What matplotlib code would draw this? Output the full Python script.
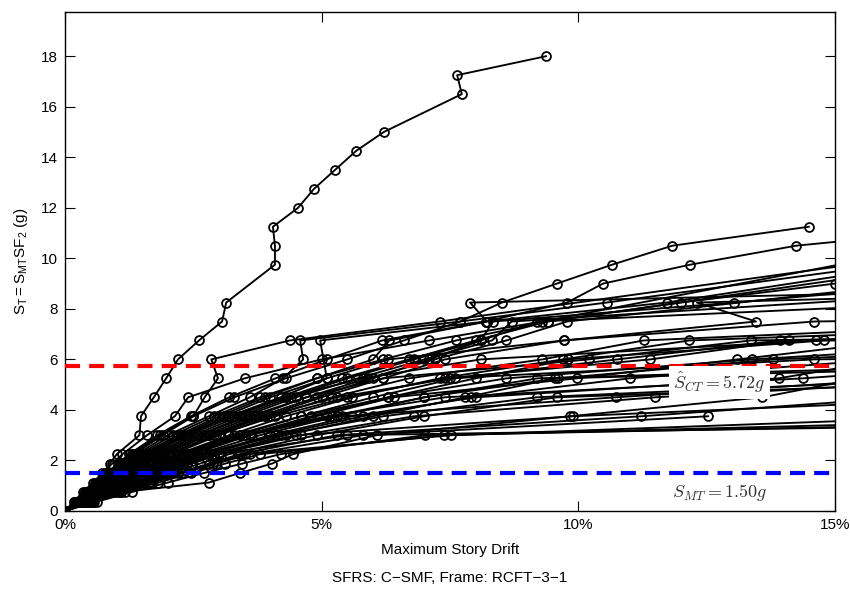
import matplotlib
matplotlib.use("Agg")
import matplotlib.pyplot as plt
import numpy as np

plt.rcParams['font.family'] = ['Liberation Sans', 'DejaVu Sans']
plt.rcParams['mathtext.fontset'] = 'cm'

# Intensity levels S_T (g) at which the IDA runs were performed
levels = [0, 0.375, 0.75, 1.125, 1.5, 1.875, 2.25, 3.0, 3.75, 4.5, 5.25, 6.0, 6.75,
          7.5, 8.25, 9.0, 9.75, 10.5, 11.25, 12.0, 12.75, 13.5, 14.25, 15.0, 15.75,
          16.5, 17.25, 18.0]

# Maximum story drift (%) of each record at each level (None = level skipped)
c01 = [0, .18, .38, .58, .78, .87, 1.01, 1.45, 1.48, 1.73, 1.97, 2.2, 2.61, 3.06, 3.14, None,
       4.09, 4.09, 4.05, 4.54, 4.85, 5.26, 5.67, 6.21, None, 7.73, 7.64, 9.37]
c02 = [0, .2, .4, .63, .85, 1.07, 1.3, 1.85, 2.5, 3.3, 4.3, 5.5, 6.6, 7.7, 8.51, 9.58, 10.66, 11.83, 14.49]
c03 = [0, .19, .39, .6, .81, 1.03, 1.25, 1.8, 2.45, 3.2, 4.1, 5.1, 6.18, 8.2, 9.78, 10.48, 12.18, 14.24]
c04 = [0, .22, .45, .7, .94, 1.19, 1.45, 2.1, 2.9, 3.8, 4.9, 6.2, 7.62, 9.4, 12.0, 15.0]
c05 = [0, .23, .47, .72, .98, 1.23, 1.5, 2.2, 3.0, 3.9, 4.9, 6.0, 6.32, 8.22, 7.89]
c06 = [0, .24, .5, .77, 1.04, 1.31, 1.6, 2.35, 3.2, 4.2, 5.1, 6.3, 9.72, 13.46, 12.31]
c07 = [0, .2, .42, .65, .88, 1.1, 1.35, 1.9, 2.5, 2.72, 2.98, 2.85, 4.38, 7.3]
c08 = [0, .21, .43, .67, .91, 1.15, 1.4, 2.0, 2.8, 3.6, 4.25, 4.64, 4.58, 7.7, 10.55]
c09 = [0, .23, .48, .74, 1.0, 1.27, 1.55, 2.25, 3.1, 4.0, 5.1, None, 4.97, 8.2, 11.72]
c10 = [0, .25, .53, .82, 1.1, 1.4, 1.7, 2.5, 3.4, 4.4, 5.5, 6.8, 8.1, 8.34, 13.03]
c11 = [0, .26, .54, .84, 1.14, 1.44, 1.75, 2.6, 3.5, 4.5, 5.7, 7.0, 8.32, 8.7]
c12 = [0, .28, .59, .91, 1.24, 1.56, 1.9, 2.8, 3.8, 4.9, 6.0, 7.1, 8.1, 9.2]
c13 = [0, .17, .35, .54, .73, .92, 1.12, 1.6, 2.14, 2.4, 3.5, 5.0, 7.1, 9.3]
c14 = [0, .3, .62, .96, 1.3, 1.64, 2.0, 2.9, 3.9, 5.0, 6.2, 7.4, 9.72, 14.6]
c15 = [0, .25, .51, .79, 1.07, 1.35, 1.65, 2.4, 3.3, 4.3, 5.4, 6.7, 8.0, 9.4]
c16 = [0, .28, .57, .89, 1.2, 1.52, 1.85, 2.7, 3.7, 4.7, 5.9, 7.2, 8.6, 9.78]
b01 = [0, .32, .65, 1.0, 1.37, 1.72, 2.1, 3.0, 4.0, 5.2, 6.7, 9.3, 11.27]
b02 = [0, .33, .68, 1.05, 1.43, 1.8, 2.2, 3.2, 4.3, 5.6, 7.3, 9.7, 12.16]
b03 = [0, .27, .56, .86, 1.17, 1.48, 1.8, 2.6, 3.6, 4.7, 6.2, 10.2, 13.36]
b04 = [0, .35, .71, 1.1, 1.5, 1.89, 2.3, 3.4, 4.6, 6.0, 7.6, 10.76, 13.93]
b05 = [0, .3, .62, .96, 1.3, 1.64, 2.0, 2.95, 4.1, 5.5, 7.4, 11.4, 14.1]
b06 = [0, .24, .5, .77, 1.04, 1.31, 1.6, 2.3, 3.2, 4.3, 5.8, 8.1, 14.63]
b07 = [0, .36, .74, 1.15, 1.56, 1.97, 2.4, 3.5, 4.8, 6.3, 8.0, 9.8, 14.79]
g01 = [0, .38, .78, 1.2, 1.63, 2.05, 2.5, 3.6, 4.9, 6.4, 9.97, 13.1]
g02 = [0, .33, .68, 1.05, 1.43, 1.8, 2.2, 3.3, 4.6, 6.3, 8.6, 13.38]
g03 = [0, .39, .81, 1.25, 1.69, 2.13, 2.6, 3.8, 5.3, 7.0, 9.6, 13.8]
g04 = [0, .28, .59, .91, 1.24, 1.56, 1.9, 2.8, 3.9, 5.3, 7.5, 14.6]
d01 = [0, .4, .84, 1.3, 1.76, 2.22, 2.7, 4.0, 5.6, 8.0, 13.9]
d02 = [0, .35, .71, 1.1, 1.5, 1.89, 2.3, 3.5, 5.1, 7.4, 14.37]
d03 = [0, .42, .87, 1.34, 1.82, 2.3, 2.8, 4.1, 5.8, 7.9, 11.0]
h04 = [0, .36, .74, 1.15, 1.56, 1.97, 2.4, 3.6, 5.2, 7.0, 9.2]
h05 = [0, .43, .9, 1.39, 1.88, 2.38, 2.9, 4.3, 6.0, 7.8, 9.55]
e01 = [0, .45, 1.1, 2.8, 3.4, 4.03, 4.44, 6.07, 9.84, 13.58]
e02 = [0, .45, .93, 1.44, 1.95, 2.47, 3.0, 4.6, 6.8, 11.5]
h01 = [0, .39, .81, 1.25, 1.69, 2.13, 2.6, 4.2, 6.2, 9.19]
h02 = [0, .48, 1.0, 1.54, 2.08, 2.63, 3.2, 4.9, 7.0, 9.58]
h03 = [0, .33, .68, 1.05, 1.43, 1.8, 2.2, 3.4, 5.4, 10.73]
f01 = [0, .5, 1.05, 1.63, 2.2, 2.8, 3.4, 5.3, 11.23]
f02 = [0, .43, .9, 1.39, 1.88, 2.38, 2.9, 4.5, 9.9]
f03 = [0, .54, 1.1, 1.7, 2.3, 2.95, 3.6, 5.8, 12.53]
k01 = [0, .52, 1.08, 1.68, 2.27, 2.88, 3.5, 7.52]
k02 = [0, .57, 1.17, 1.82, 2.46, 3.12, 3.8, 7.39]
k03 = [0, .63, 1.3, 2.0, 2.7, 3.45, 4.2, 7.02]
k04 = [0, .45, .93, 1.44, 1.95, 2.47, 3.0, 5.5]

records = [c01, c02, c03, c04, c05, c06, c07, c08, c09, c10, c11, c12, c13, c14, c15, c16,
           b01, b02, b03, b04, b05, b06, b07, g01, g02, g03, g04, d01, d02, d03, h04, h05,
           e01, e02, h01, h02, h03, f01, f02, f03, k01, k02, k03, k04]

# Final (collapse) point of each record: drift (%) and S_T (g); None = no collapse point
collapse_drift = [None, None, 18.0, 40, 24, 26, 18.0, 16.0, 16.54, 17.25, 20.5, 17.4, 17.0, 40, 17.1, 16.5,
                  19.75, 22.3, 38, 40, 30, 45, 50, 16.27, 19.5, 22.8, 40, 16.07, 19.6, 16.0, 22, 25,
                  15.48, 18.06, 17.5, 20, 16.5, 16.4, 18.4, None, 17.72, 21.7, 25.7, 30]
collapse_level = [None, None, 11.25, 9.75, 9.0, 9.0, 10.5, 9.75, 9.75, 9.0, 9.0, 8.25, 10.5, 8.25, 9.75, 9.0,
                  7.5, 7.5, 7.5, 7.5, 7.5, 7.5, 7.5, 6.75, 6.75, 6.75, 6.75, 6.0, 6.0, 6.0, 6.0, 6.0,
                  5.25, 5.25, 5.25, 5.25, 5.25, 4.5, 4.5, None, 3.75, 3.75, 3.75, 3.75]

S_CT = 5.72
S_MT = 1.50
xticks = [0, 5, 10, 15]
xticklabels = ['0%', '5%', '10%', '15%']
yticks = [0, 2, 4, 6, 8, 10, 12, 14, 16, 18]

fig = plt.figure(figsize=(8.5, 5.9), dpi=100)
ax = fig.add_axes([65 / 850, 1 - 511 / 590, 770 / 850, 499 / 590])

for rec, cd, cl in zip(records, collapse_drift, collapse_level):
    xs = [d for d in rec if d is not None]
    ys = [lv for d, lv in zip(rec, levels) if d is not None]
    if cd is not None:
        xs = xs + [cd]
        ys = ys + [cl]
    ax.plot(xs, ys, color='black', lw=1.35, marker='o', ms=6.4, mfc='none',
            mec='black', mew=1.3, zorder=3)

ax.axhline(S_CT, color='#ff0000', lw=3, ls=(0, (3.6, 2.2)), zorder=4)
ax.axhline(S_MT, color='#0000ff', lw=3, ls=(0, (3.6, 2.2)), zorder=4)

ax.text(12.75, 5.08, r'$\hat{S}_{CT} = 5.72g$', fontsize=13, color='#333333',
        ha='center', va='center', zorder=6,
        bbox=dict(facecolor='white', edgecolor='none', pad=3))
ax.text(12.75, 0.75, r'$S_{MT} = 1.50g$', fontsize=13, color='#333333',
        ha='center', va='center', zorder=6)

ax.set_xlim(0, 15)
ax.set_ylim(0, 19.75)
ax.set_xticks(xticks)
ax.set_xticklabels(xticklabels)
ax.set_yticks(yticks)
ax.tick_params(direction='in', length=7, width=0.8, top=True, right=True,
               labelsize=11, pad=5)
for s in ax.spines.values():
    s.set_linewidth(1.0)

ax.set_xlabel('Maximum Story Drift', fontsize=11, labelpad=8)
ax.set_ylabel(r'$\mathregular{S_T = S_{MT}SF_2}$ (g)', fontsize=11, labelpad=8)
fig.text(450 / 850, 1 - 578 / 590, 'SFRS: C\u2212SMF, Frame: RCFT\u22123\u22121',
         fontsize=11, ha='center', va='center')

fig.savefig('out.png', dpi=100)
